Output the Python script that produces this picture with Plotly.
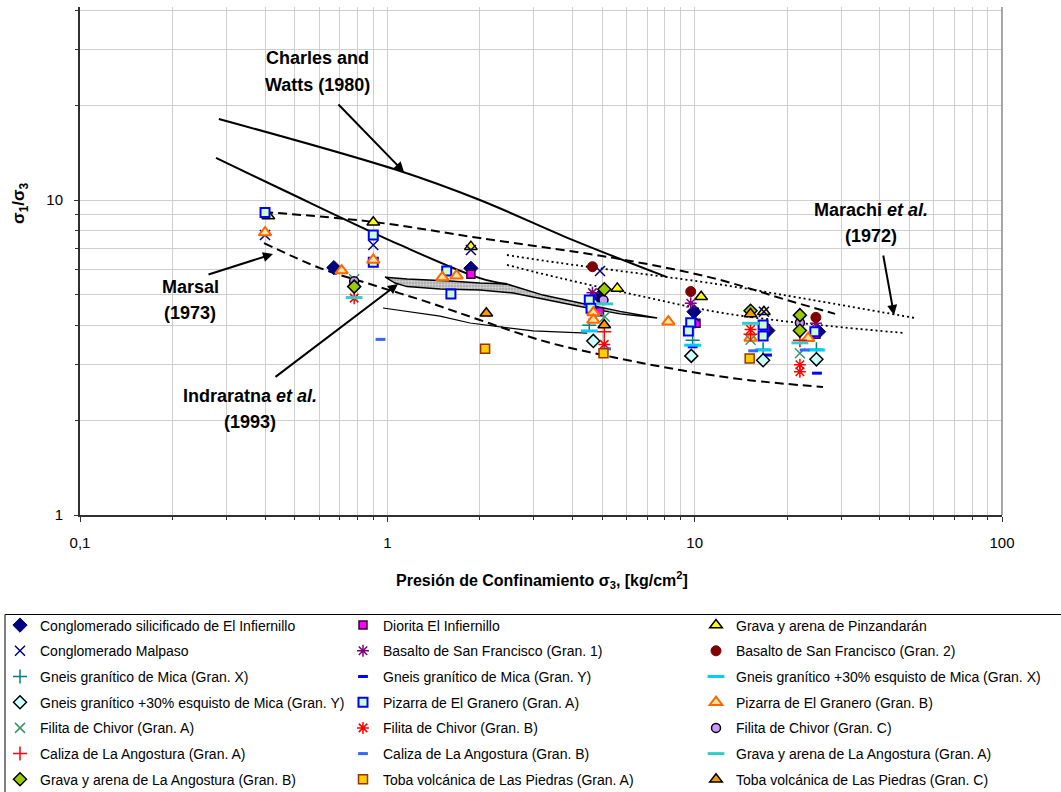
import plotly.graph_objects as go

# ---------------------------------------------------------------------------
# Data: confining pressure sigma3 [kg/cm2] and principal stress ratio s1/s3
# ---------------------------------------------------------------------------
names = [
    "Conglomerado silicificado de El Infiernillo",
    "Diorita El Infiernillo",
    "Grava y arena de Pinzandarán",
    "Conglomerado Malpaso",
    "Basalto de San Francisco (Gran. 1)",
    "Basalto de San Francisco (Gran. 2)",
    "Gneis granítico de Mica (Gran. X)",
    "Gneis granítico de Mica (Gran. Y)",
    "Gneis granítico +30% esquisto de Mica (Gran. X)",
    "Gneis granítico +30% esquisto de Mica (Gran. Y)",
    "Pizarra de El Granero (Gran. A)",
    "Pizarra de El Granero (Gran. B)",
    "Filita de Chivor (Gran. A)",
    "Filita de Chivor (Gran. B)",
    "Filita de Chivor (Gran. C)",
    "Caliza de La Angostura (Gran. A)",
    "Caliza de La Angostura (Gran. B)",
    "Grava y arena de La Angostura (Gran. A)",
    "Grava y arena de La Angostura (Gran. B)",
    "Toba volcánica de Las Piedras (Gran. A)",
    "Toba volcánica de Las Piedras (Gran. C)",
]

sigma3 = [
    [0.67, 1.87, 4.9, 9.95, 17.3, 25.3],
    [1.87, 4.9, 10.1, 17.0, 24.8],
    [0.41, 0.9, 1.87, 5.6, 10.5, 16.8],
    [0.4, 0.9, 1.87, 4.92, 9.95, 16.8],
    [4.65, 9.71, 24.8],
    [4.65, 9.71, 24.8],
    [4.54, 9.85, 16.7, 24.9],
    [9.85, 17.2, 25.0],
    [4.54, 9.85, 16.7, 24.9],
    [4.68, 9.75, 16.7, 24.9],
    [0.4, 0.9, 0.9, 1.56, 1.61, 4.54, 4.6, 9.71, 9.54, 16.7, 16.7, 24.6],
    [0.4, 0.71, 0.9, 1.51, 1.68, 4.68, 4.68, 8.21, 15.2, 23.4],
    [0.78, 5.1, 15.2, 22.0],
    [0.78, 5.08, 15.2, 22.0, 22.0],
    [0.78, 5.05, 22.0],
    [5.08, 15.2, 22.0],
    [0.95, 5.15, 15.5, 22.8],
    [0.78, 5.1, 15.2, 22.0],
    [0.78, 5.08, 15.2, 22.0, 22.0],
    [2.08, 5.05, 15.1],
    [2.1, 5.08, 15.2],
]

ratio = [
    [6.1, 6.07, 4.93, 4.42, 3.85, 3.82],
    [5.81, 4.42, 4.06, 3.9, 3.75],
    [8.9, 8.5, 7.11, 5.24, 4.93, 4.42],
    [7.74, 7.2, 6.94, 5.95, 4.28, 4.42],
    [5.08, 4.7, 4.06],
    [6.14, 5.12, 4.24],
    [4.0, 3.59, 3.36, 3.36],
    [3.42, 3.22, 2.82],
    [3.84, 3.46, 3.34, 3.34],
    [3.57, 3.2, 3.1, 3.12],
    [9.12, 7.74, 6.35, 5.95, 5.03, 4.81, 4.53, 4.08, 3.84, 4.01, 3.7, 3.82],
    [7.88, 5.97, 6.45, 5.68, 5.75, 4.39, 4.16, 4.11, 3.65, 3.64],
    [5.6, 4.26, 3.6, 3.26],
    [4.88, 3.48, 3.88, 3.0, 2.85],
    [5.52, 4.81, 4.08],
    [3.82, 3.75, 3.59],
    [3.61, 3.37, 3.32, 3.34],
    [4.9, 4.68, 4.06, 3.52],
    [5.31, 5.21, 4.45, 4.31, 3.85],
    [3.37, 3.26, 3.14],
    [4.37, 4.01, 4.35],
]

# Reference envelopes from the literature
charles_upper_x = [0.283, 1.10, 2.0, 4.02, 8.13]
charles_upper_y = [18.08, 12.36, 10.0, 7.46, 5.69]
charles_lower_x = [0.277, 0.458, 1.10, 2.0, 2.45]
charles_lower_y = [13.6, 10.76, 7.2, 5.65, 5.41]

marsal_upper_x = [0.397, 0.899, 2.0, 5.43, 11.48, 20.44, 28.64]
marsal_upper_y = [9.16, 8.52, 7.57, 6.55, 5.65, 4.78, 4.35]
marsal_lower_x = [0.397, 0.604, 0.899, 1.346, 2.0, 3.31, 5.43, 8.97, 14.81, 26.17]
marsal_lower_y = [7.3, 6.08, 5.37, 4.75, 4.16, 3.54, 3.17, 2.886, 2.683, 2.55]

marachi_upper_x = [2.45, 3.65, 11.83, 22.03, 52.1]
marachi_upper_y = [6.69, 6.31, 5.41, 4.89, 4.22]
marachi_lower_x = [2.45, 3.65, 6.64, 11.83, 22.03, 48.4]
marachi_lower_y = [6.22, 5.65, 4.96, 4.41, 4.07, 3.78]

indra_top_x = [0.983, 1.159, 1.6, 2.0, 2.45, 3.21, 4.24, 5.72, 7.55]
indra_top_y = [5.69, 5.61, 5.53, 5.45, 5.41, 4.99, 4.71, 4.43, 4.22]
indra_bot_x = [0.983, 1.06, 1.159, 1.484, 2.0, 2.565, 3.31, 4.24, 5.72, 7.55]
indra_bot_y = [5.69, 5.45, 5.31, 5.22, 5.18, 5.07, 4.81, 4.59, 4.35, 4.22]

indra_low_x = [0.968, 1.484, 1.858, 2.327, 2.98, 4.47]
indra_low_y = [4.54, 4.28, 4.07, 3.95, 3.84, 3.78]

# ---------------------------------------------------------------------------
# Marker styles for each material
# ---------------------------------------------------------------------------
def filled(symbol, fill, edge, size=9, width=1):
    return dict(symbol=symbol, size=size, color=fill, line=dict(color=edge, width=width))

def stroke(symbol, col, size=9, width=1.5):
    return dict(symbol=symbol, size=size, color=col, line=dict(color=col, width=width))

styles = [
    filled("diamond", "#000080", "#000080", 11),
    filled("square", "#FF00FF", "#330033", 8, 1.5),
    filled("triangle-up", "#FFFF00", "#000000", 11, 1.5),
    stroke("x-thin-open", "#000080", 10, 1.5),
    stroke("asterisk-open", "#800080", 10, 1.5),
    filled("circle", "#800000", "#800000", 10),
    stroke("cross-thin-open", "#008080", 10, 1.5),
    stroke("line-ew-open", "#0000FF", 7, 3),
    stroke("line-ew-open", "#00CCFF", 12, 3),
    filled("diamond", "#CCFFFF", "#000000", 10, 1.5),
    filled("square", "#CCFFCC", "#0000FF", 9, 2),
    filled("triangle-up", "#FFE4A0", "#FF6600", 11, 2),
    stroke("x-thin-open", "#339966", 10, 1.5),
    stroke("asterisk-open", "#FF0000", 10, 1.5),
    filled("circle", "#CC99FF", "#000000", 9, 1.5),
    stroke("cross-thin-open", "#FF0000", 10, 1.5),
    stroke("line-ew-open", "#3366FF", 7, 3),
    stroke("line-ew-open", "#33CCCC", 12, 3),
    filled("diamond", "#99CC00", "#000000", 10, 1.5),
    filled("square", "#FFCC00", "#993300", 9, 1.5),
    filled("triangle-up", "#FF9900", "#000000", 11, 1.5),
]

W, H = 1061, 792
L, R, T, B = 80, 1002, 7, 515
FONT = "Liberation Sans, Arial, sans-serif"


def xp(px):
    return (px - L) / (R - L)


def yp(py):
    return (B - py) / (B - T)


fig = go.Figure()

# envelope curves
line_black = dict(color="black", width=2)
fig.add_trace(go.Scatter(x=indra_top_x + indra_bot_x[::-1], y=indra_top_y + indra_bot_y[::-1],
                         mode="lines", fill="toself", line=dict(color="black", width=1.5),
                         fillcolor="#b0b0b0",
                         fillpattern=dict(shape=".", bgcolor="#a6a6a6", fgcolor="white",
                                          size=3, solidity=0.5),
                         showlegend=False, hoverinfo="skip"))
fig.add_trace(go.Scatter(x=indra_low_x, y=indra_low_y, mode="lines",
                         line=dict(color="black", width=1.2), showlegend=False))
fig.add_trace(go.Scatter(x=charles_upper_x, y=charles_upper_y, mode="lines",
                         line=line_black, line_shape="spline", showlegend=False))
fig.add_trace(go.Scatter(x=charles_lower_x, y=charles_lower_y, mode="lines",
                         line=line_black, line_shape="spline", showlegend=False))
dash = dict(color="black", width=2, dash="9px,5px")
fig.add_trace(go.Scatter(x=marsal_upper_x, y=marsal_upper_y, mode="lines",
                         line=dash, line_shape="spline", showlegend=False))
fig.add_trace(go.Scatter(x=marsal_lower_x, y=marsal_lower_y, mode="lines",
                         line=dash, line_shape="spline", showlegend=False))
dots = dict(color="black", width=1.8, dash="2px,3px")
fig.add_trace(go.Scatter(x=marachi_upper_x, y=marachi_upper_y, mode="lines",
                         line=dots, line_shape="spline", showlegend=False))
fig.add_trace(go.Scatter(x=marachi_lower_x, y=marachi_lower_y, mode="lines",
                         line=dots, line_shape="spline", showlegend=False))

# material series, one legend box per entry laid out in a 3-column grid
row_y0, row_step = 625.5, 25.7
legend_x = [0, 343, 696]
legends = {}
for i, (nm, xs, ys, st) in enumerate(zip(names, sigma3, ratio, styles)):
    key = "legend" if i == 0 else f"legend{i + 1}"
    row, col = divmod(i, 3)
    fig.add_trace(go.Scatter(x=xs, y=ys, mode="markers", name=nm, marker=st, legend=key))
    legends[key] = dict(
        xref="container", yref="container",
        x=legend_x[col] / W, y=1 - (row_y0 + row * row_step) / H,
        xanchor="left", yanchor="middle",
        bgcolor="rgba(0,0,0,0)", borderwidth=0,
        font=dict(family=FONT, size=14, color="black"),
    )

# decade minor grid positions
minor_x = [m * 10 ** e for e in (-1, 0, 1) for m in range(2, 10)]
minor_y = [m * 10 ** e for e in (0, 1) for m in range(2, 10) if m * 10 ** e < 41]

fig.update_xaxes(
    type="log", range=[-1, 2],
    tickvals=[0.1, 1, 10, 100], ticktext=["0,1", "1", "10", "100"],
    showgrid=True, gridcolor="#cfcfcf", gridwidth=1,
    showline=True, linecolor="#303030", linewidth=1.5,
    ticks="outside", ticklen=5, tickcolor="#303030",
    ticklabelstandoff=8,
    tickfont=dict(family=FONT, size=15, color="black"),
    minor=dict(tickvals=minor_x, showgrid=True, gridcolor="#cfcfcf", gridwidth=1,
               ticks="outside", ticklen=3, tickcolor="#303030"),
    zeroline=False,
)
fig.update_yaxes(
    type="log", range=[0, (B - T) / 315],
    tickvals=[1, 10], ticktext=["1", "10"],
    showgrid=True, gridcolor="#cfcfcf", gridwidth=1,
    showline=True, linecolor="#303030", linewidth=2,
    ticks="outside", ticklen=4, tickcolor="#303030",
    ticklabelstandoff=8,
    tickfont=dict(family=FONT, size=15, color="black"),
    minor=dict(tickvals=minor_y, showgrid=True, gridcolor="#cfcfcf", gridwidth=1,
               ticks="outside", ticklen=3, tickcolor="#303030"),
    zeroline=False,
)

shapes = []
# white label panels over the grid
for x0, y0, x1, y1 in [(247, 46, 385, 102), (143, 262, 236, 333),
                       (162, 377, 338, 440), (803, 190, 940, 255)]:
    shapes.append(dict(type="rect", xref="paper", yref="paper", layer="between",
                       x0=xp(x0), x1=xp(x1), y0=yp(y1), y1=yp(y0),
                       fillcolor="white", line=dict(width=0)))
# right border of plotting area
shapes.append(dict(type="line", xref="paper", yref="paper", x0=1, x1=1, y0=0, y1=1,
                   line=dict(color="#8a8a8a", width=1.5)))
# legend frame
shapes.append(dict(type="rect", xref="paper", yref="paper",
                   x0=xp(5), x1=xp(1075), y0=yp(810), y1=yp(614.5),
                   line=dict(color="black", width=1), fillcolor="rgba(0,0,0,0)"))

annotations = []
lab_font = dict(family=FONT, size=18, color="black")
for txt, cx, cy in [("<b>Charles and</b>", 317, 58), ("<b>Watts (1980)</b>", 317, 85),
                    ("<b>Marsal</b>", 190, 287), ("<b>(1973)</b>", 190, 313),
                    ("<b>Indraratna <i>et al.</i></b>", 250, 396), ("<b>(1993)</b>", 250, 422),
                    ("<b>Marachi <i>et al.</i></b>", 871, 210), ("<b>(1972)</b>", 871, 236)]:
    annotations.append(dict(text=txt, x=xp(cx), y=yp(cy), xref="paper", yref="paper",
                            xanchor="center", yanchor="middle", showarrow=False,
                            font=lab_font))
# pointers from labels to curves (tail -> tip)
for (tx, ty), (hx, hy) in [((337, 103), (404, 172)), ((207, 275), (273, 254)),
                           ((274, 378), (398, 284)), ((883, 254), (894, 315))]:
    annotations.append(dict(text="", x=xp(hx), y=yp(hy), xref="paper", yref="paper",
                            ax=tx - hx, ay=ty - hy, showarrow=True, arrowhead=2,
                            arrowsize=1, arrowwidth=2, arrowcolor="black", standoff=0))
# axis titles
annotations.append(dict(text="<b>Presión de Confinamiento σ<sub>3</sub>, [kg/cm<sup>2</sup>]</b>",
                        x=xp(542), y=yp(580), xref="paper", yref="paper",
                        xanchor="center", yanchor="middle", showarrow=False,
                        font=dict(family=FONT, size=16, color="black")))
annotations.append(dict(text="<b>σ<sub>1</sub>/σ<sub>3</sub></b>", textangle=-90,
                        x=xp(20), y=yp(203), xref="paper", yref="paper",
                        xanchor="center", yanchor="middle", showarrow=False,
                        font=dict(family=FONT, size=17, color="black")))

fig.update_layout(
    width=W, height=H, autosize=False,
    margin=dict(l=L, r=W - R, t=T, b=H - B, autoexpand=False),
    paper_bgcolor="white", plot_bgcolor="white",
    font=dict(family=FONT, color="black"),
    shapes=shapes, annotations=annotations,
    **legends,
)

fig.write_html("out.html")
